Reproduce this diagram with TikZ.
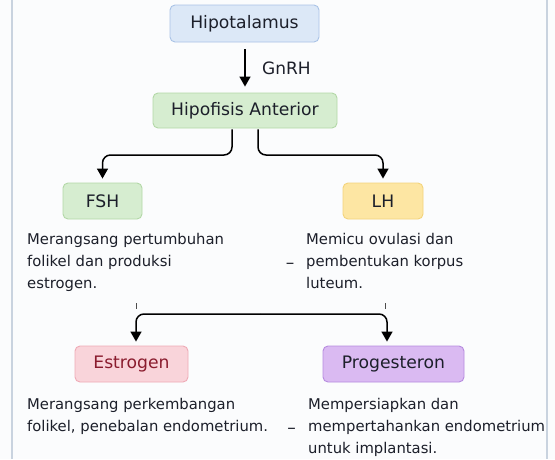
\documentclass[tikz,border=0pt]{standalone}
\usepackage{fontspec}
\setmainfont{DejaVu Sans}
\usetikzlibrary{arrows.meta}
\definecolor{bgc}{HTML}{FBFCFD}
\definecolor{framec}{HTML}{C9D3DF}
\definecolor{blueF}{HTML}{DCE8F7}\definecolor{blueD}{HTML}{A9C3E6}
\definecolor{greenF}{HTML}{D6EDD0}\definecolor{greenD}{HTML}{B3D8A7}
\definecolor{yelF}{HTML}{FDE6A3}\definecolor{yelD}{HTML}{F3D47C}
\definecolor{pinkF}{HTML}{F9D4DA}\definecolor{pinkD}{HTML}{EFAAB6}
\definecolor{purF}{HTML}{DABAF2}\definecolor{purD}{HTML}{B68BDF}
\definecolor{txt}{HTML}{1C1F2A}
\definecolor{estT}{HTML}{8A1C2E}
\begin{document}
\begin{tikzpicture}[x=1pt,y=-1pt,
  box/.style={draw, line width=0.9pt, rounded corners=5pt, inner sep=0pt, text=txt,
    font=\fontsize{17.2}{20}\selectfont},
  desc/.style={anchor=base west, inner sep=0pt, align=left, text=txt,
    font=\fontsize{14.8}{22}\selectfont},
  arr/.style={-{Triangle[length=10pt,width=11pt]}, line width=1.5pt, black, rounded corners=8pt},
  tick/.style={line width=0.8pt, black!70},
  dsh/.style={anchor=base, inner sep=0pt, text=txt, font=\fontsize{17}{20}\selectfont}]
\useasboundingbox (0,0) rectangle (555,459);
\fill[bgc] (0,0) rectangle (555,459);
\draw[framec, line width=1.3pt] (12,0) -- (12,459);
\draw[framec, line width=1.3pt] (547,0) -- (547,459);

\node[box, fill=blueF, draw=blueD, minimum width=149pt, minimum height=37pt] (hypo) at (244.5,23.5) {Hipotalamus};
\node[box, fill=greenF, draw=greenD, minimum width=184pt, minimum height=35pt] (hipof) at (245,110.5) {Hipofisis Anterior};
\node[box, fill=greenF, draw=greenD, minimum width=79pt, minimum height=36pt] (fsh) at (102.5,201) {FSH};
\node[box, fill=yelF, draw=yelD, minimum width=80pt, minimum height=36pt] (lh) at (383,201) {LH};
\node[box, fill=pinkF, draw=pinkD, minimum width=113pt, minimum height=36pt, text=estT] (est) at (131.5,364) {Estrogen};
\node[box, fill=purF, draw=purD, minimum width=141pt, minimum height=36pt] (prog) at (393.5,364) {Progesteron};

\draw[arr, shorten <=7pt, shorten >=6pt] (hipof.north |- hypo.south) -- (hipof.north);
\node[anchor=west, inner sep=0pt, text=txt, font=\fontsize{17}{20}\selectfont] (gnrh) at (262,68) {GnRH};

\draw[arr, shorten <=1pt, shorten >=4pt] ([xshift=-13pt]hipof.south) |- (fsh.north |- 0,155) -- (fsh.north);
\draw[arr, shorten <=1pt, shorten >=4pt] ([xshift=13pt]hipof.south) |- (lh.north |- 0,155) -- (lh.north);

\node[desc] (fshd) at (27,288) {Merangsang pertumbuhan\\folikel dan produksi\\estrogen.};
\node[desc] (lhd) at (306,288) {Memicu ovulasi dan\\pembentukan korpus\\luteum.};
\node[dsh] (dash1) at (290,268) {–};

\draw[tick] (136,303) -- (136,309);
\draw[tick] (385,303) -- (385,309);
\coordinate (m) at (260,314);
\draw[arr, shorten >=4pt] (m) -| ([xshift=4.5pt]est.north);
\draw[arr, shorten >=4pt] (m) -| ([xshift=-6.5pt]prog.north);

\node[desc] (estd) at (27,431) {Merangsang perkembangan\\folikel, penebalan endometrium.};
\node[desc] (progd) at (308,453) {Mempersiapkan dan\\mempertahankan endometrium\\untuk implantasi.};
\node[dsh] (dash2) at (291.5,433) {–};
\end{tikzpicture}
\end{document}
